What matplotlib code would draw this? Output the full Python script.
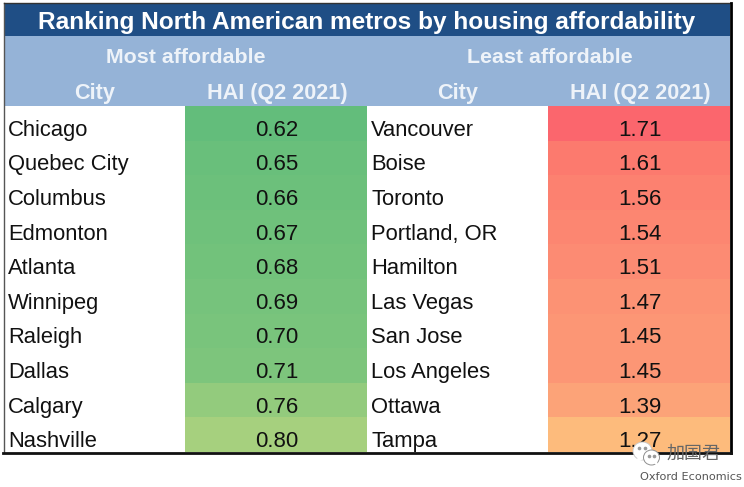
import matplotlib
matplotlib.use('Agg')
import matplotlib.pyplot as plt
from matplotlib.patches import Ellipse, Polygon

plt.rcParams['font.family'] = ['Liberation Sans', 'DejaVu Sans']

title = 'Ranking North American metros by housing affordability'
groups = ['Most affordable', 'Least affordable']
col_city = 'City'
col_hai = 'HAI (Q2 2021)'

most_city = ['Chicago', 'Quebec City', 'Columbus', 'Edmonton', 'Atlanta',
             'Winnipeg', 'Raleigh', 'Dallas', 'Calgary', 'Nashville']
most_hai = [0.62, 0.65, 0.66, 0.67, 0.68, 0.69, 0.70, 0.71, 0.76, 0.80]
most_col = ['#63bd7b', '#69bf7b', '#6cc07b', '#6fc17b', '#72c27b',
            '#76c37c', '#79c47c', '#7dc57c', '#93cb7d', '#a6d07e']

least_city = ['Vancouver', 'Boise', 'Toronto', 'Portland, OR', 'Hamilton',
              'Las Vegas', 'San Jose', 'Los Angeles', 'Ottawa', 'Tampa']
least_hai = [1.71, 1.61, 1.56, 1.54, 1.51, 1.47, 1.45, 1.45, 1.39, 1.27]
least_col = ['#fb666d', '#fc7a6e', '#fc8170', '#fc8671', '#fc8b73',
             '#fc9274', '#fc9675', '#fc9675', '#fca378', '#fdbb7c']

navy = '#1f4e85'
light = '#95b3d7'
head = '#eef3f9'
W, H = 744, 487
top, left, right, bottom = 3, 4, 730, 452
mid = 367
row_top, row_h = 106, 34.6

fig = plt.figure(figsize=(W / 100, H / 100), dpi=100)
ax = fig.add_axes([0, 0, 1, 1])
ax.set_xlim(0, W)
ax.set_ylim(H, 0)
ax.axis('off')

# header bands
ax.barh(19.5, right - left, height=33, left=left, color=navy, lw=0)
ax.barh(71, right - left, height=70, left=left, color=light, lw=0)
ax.text(367, 29, title, color='white', fontsize=17.6,
        fontweight='bold', ha='center', va='baseline')
ax.text(186, 63, groups[0], color=head, fontsize=15.4, fontweight='bold', ha='center', va='baseline')
ax.text(550, 63, groups[1], color=head, fontsize=15.4, fontweight='bold', ha='center', va='baseline')

def draw_side(x0, cities, hai, cols):
    ax.text(x0 + 91, 99, col_city, color=head, fontsize=15.6, fontweight='bold', ha='center', va='baseline')
    ax.text(x0 + 273, 99, col_hai, color=head, fontsize=15.6, fontweight='bold', ha='center', va='baseline')
    for i in range(len(cities)):
        y = row_top + row_h * (i + 0.5)
        ax.barh(y, 182, height=row_h, left=x0 + 181, color=cols[i], lw=0)
        ax.text(x0 + 4, y + 12.5, cities[i], color='#111111', fontsize=15.8, ha='left', va='baseline')
        ax.text(x0 + 273, y + 12.5, '%.2f' % hai[i], color='#111111', fontsize=16, ha='center', va='baseline')

draw_side(4, most_city, most_hai, most_col)
draw_side(mid, least_city, least_hai, least_col)

# frame: thin grey on the left, black right and bottom
ax.plot([left, left], [top, bottom], color='#555555', lw=1)
ax.plot([left, right], [top, top], color='#333333', lw=1)
ax.plot([right + 0.5, right + 0.5], [top, bottom + 1], color='black', lw=2)
ax.plot([left - 1, right + 1], [bottom + 1, bottom + 1], color='#111111', lw=2)

# watermark
ax.add_patch(Ellipse((642.5, 451), 19, 18, fc='white', ec='#c8c8c8', lw=0.6, zorder=5))
ax.add_patch(Polygon([(638, 457), (635, 464), (643, 459)], fc='white', ec='none', zorder=5))
ax.add_patch(Ellipse((651.5, 457.5), 16, 15, fc='white', ec='#8f8f8f', lw=0.7, zorder=6))
ax.add_patch(Polygon([(654, 463), (658, 467), (657, 461)], fc='white', ec='none', zorder=6))
ax.plot([639, 645, 648.5, 654], [448, 448, 456, 456], ls='none', marker='o', ms=1.6, color='#999999', zorder=7)
ax.text(694, 454, '加国君', family=['Noto Sans CJK SC', 'DejaVu Sans'], color='#666666',
        fontsize=13, ha='center', va='center', zorder=6)
ax.text(691, 477, 'Oxford Economics', family='DejaVu Sans', color='#555555', fontsize=8.1,
        ha='center', va='center', zorder=6)

fig.savefig('out.png', dpi=100)
